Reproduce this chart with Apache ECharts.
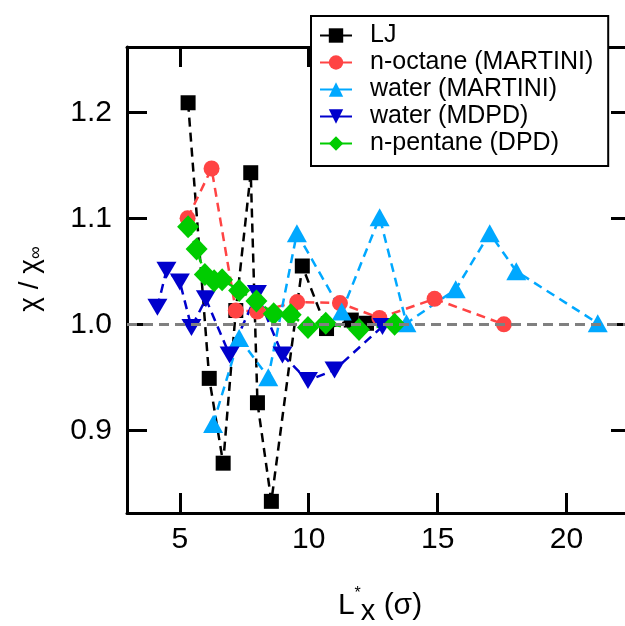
<!DOCTYPE html>
<html><head><meta charset="utf-8">
<script src="https://cdn.jsdelivr.net/npm/echarts@6/dist/echarts.min.js"></script>
<style>html,body{margin:0;padding:0;background:#fff}#c{width:625px;height:626px}</style>
</head><body><div id="c"></div>
<script>
// ---- data ----
const xTicks = [5, 10, 15, 20];
const yTicks = [0.9, 1.0, 1.1, 1.2];
const seriesNames = ['LJ', 'n-octane (MARTINI)', 'water (MARTINI)', 'water (MDPD)', 'n-pentane (DPD)'];

const xLJ = [5.32, 6.14, 6.68, 7.17, 7.75, 8.01, 8.55, 9.75, 10.69, 11.65, 12.24];
const yLJ = [1.209, 0.949, 0.869, 1.013, 1.143, 0.926, 0.833, 1.055, 0.996, 1.004, 1.001];

const xOct = [5.30, 6.23, 7.17, 8.00, 9.55, 11.21, 12.74, 14.88, 17.57];
const yOct = [1.100, 1.147, 1.013, 1.012, 1.021, 1.020, 1.006, 1.024, 1.000];

const xWM = [6.29, 7.30, 8.43, 9.54, 11.28, 12.75, 13.79, 15.70, 17.02, 18.05, 21.21];
const yWM = [0.906, 0.987, 0.950, 1.086, 1.012, 1.101, 1.001, 1.033, 1.086, 1.050, 1.001];

const xMD = [4.13, 4.48, 5.00, 5.45, 6.01, 6.93, 7.99, 8.98, 9.97, 11.00, 12.86];
const yMD = [1.016, 1.051, 1.040, 0.997, 1.024, 0.971, 1.029, 0.971, 0.947, 0.957, 0.998];

const xPen = [5.32, 5.65, 5.97, 6.33, 6.64, 7.30, 7.97, 8.64, 9.30, 9.97, 10.66, 11.95, 13.33];
const yPen = [1.092, 1.071, 1.047, 1.041, 1.042, 1.032, 1.022, 1.010, 1.009, 0.997, 1.001, 0.995, 1.000];

const refValue = 1.0;
// --------------------------------------

const FONT = '"Liberation Sans", Arial, Helvetica, sans-serif';
function pairs(xs, ys) { return xs.map((x, i) => [x, ys[i]]); }

const chart = echarts.init(document.getElementById('c'), null, {renderer: 'canvas'});

function mkAxis(base) {
  return Object.assign({
    type: 'value',
    axisLine: {show: true, onZero: false, lineStyle: {color: '#000', width: 3}},
    splitLine: {show: false},
    minorTick: {show: false}
  }, base);
}
function mkTick(vals) {
  return {show: true, inside: true, length: 20, lineStyle: {color: '#000', width: 3}, customValues: vals};
}

const lineW = 2.5, dash = [9, 6];
function mkSeries(name, data, color, symbol, size, rotate) {
  return {
    name: name, type: 'line', data: data,
    symbol: symbol, symbolSize: size, symbolRotate: rotate || 0,
    showAllSymbol: true,
    itemStyle: {color: color, opacity: 1},
    lineStyle: {color: color, width: lineW, type: dash},
    emphasis: {disabled: true}
  };
}

const option = {
  animation: false,
  backgroundColor: '#fff',
  grid: {left: 127, top: 47, width: 504, height: 466, outerBoundsMode: 'none', containLabel: false},
  xAxis: [
    mkAxis({min: 2.95, max: 22.5, position: 'bottom', axisTick: mkTick(xTicks),
      axisLabel: {show: true, customValues: xTicks, fontSize: 30, color: '#000', fontFamily: FONT, margin: 12}}),
    mkAxis({min: 2.95, max: 22.5, position: 'top', axisTick: mkTick(xTicks), axisLabel: {show: false}})
  ],
  yAxis: [
    mkAxis({min: 0.822, max: 1.2616, position: 'left', axisTick: mkTick(yTicks),
      axisLabel: {show: true, customValues: yTicks, fontSize: 30, color: '#000', fontFamily: FONT, margin: 15,
        formatter: v => v.toFixed(1)}}),
    mkAxis({min: 0.822, max: 1.2616, position: 'right', axisTick: mkTick(yTicks), axisLabel: {show: false}})
  ],
  legend: {
    orient: 'vertical', left: 311, top: 16,
    backgroundColor: '#fff', borderColor: '#000', borderWidth: 2,
    padding: [7, 15, 10, 8],
    itemGap: 2, itemWidth: 32, itemHeight: 18,
    lineStyle: {type: 'solid', width: 2},
    textStyle: {fontSize: 25, lineHeight: 24, color: '#000', fontFamily: FONT, padding: [0, 0, 0, 13]},
    data: seriesNames
  },
  series: [
    {type: 'line', data: [], silent: true, z: 1,
     markLine: {silent: true, symbol: 'none', label: {show: false},
       lineStyle: {color: '#808080', width: 3, type: [10, 6]},
       data: [{yAxis: refValue}]}},
    mkSeries(seriesNames[0], pairs(xLJ, yLJ), '#000000', 'rect', 15),
    mkSeries(seriesNames[1], pairs(xOct, yOct), '#ff4444', 'circle', 16),
    mkSeries(seriesNames[2], pairs(xWM, yWM), '#00a8ff', 'triangle', [20, 18]),
    mkSeries(seriesNames[3], pairs(xMD, yMD), '#0000cc', 'triangle', [20, 17], 180),
    mkSeries(seriesNames[4], pairs(xPen, yPen), '#00cc00', 'diamond', [22, 23])
  ],
  graphic: [
    {type: 'text', x: 30, y: 279, rotation: Math.PI / 2,
     style: {text: '{a|χ / χ}{s|∞}', align: 'center', verticalAlign: 'middle',
       rich: {a: {fontSize: 28, lineHeight: 30, fontFamily: FONT, fill: '#000', verticalAlign: 'middle'},
              s: {fontSize: 18, lineHeight: 18, fontFamily: FONT, fill: '#000', verticalAlign: 'bottom'}}}},
    {type: 'text', x: 380, y: 606,
     style: {text: '{a|L}{sup|*}{sub|x}{a| (σ)}', align: 'center', verticalAlign: 'middle',
       rich: {a: {fontSize: 30, lineHeight: 40, fontFamily: FONT, fill: '#000', verticalAlign: 'middle'},
              sup: {fontSize: 16, lineHeight: 16, fontFamily: FONT, fill: '#000', verticalAlign: 'top'},
              sub: {fontSize: 29, lineHeight: 29, fontFamily: FONT, fill: '#000', verticalAlign: 'bottom'}}}}
  ]
};
chart.setOption(option);
</script>
</body></html>
